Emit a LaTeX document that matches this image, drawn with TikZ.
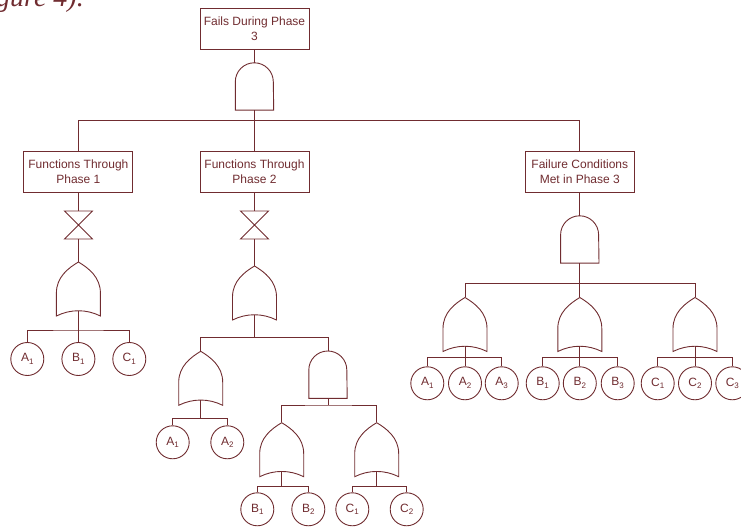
\documentclass[tikz,border=0pt]{standalone}
\usepackage{fontspec}
\setmainfont{Liberation Sans}
\newfontfamily\capfont{Liberation Serif}
\usetikzlibrary{calc}
\definecolor{ink}{RGB}{112,44,48}
\newcommand\drawand[1]{\draw[ln] (#1.south west) -- ([yshift=-19pt]#1.north west) arc[start angle=180,end angle=0,radius=19pt] -- (#1.south east) -- cycle;}
\newcommand\drawor[1]{\draw[ln,shift={(#1.center)}] (-22,-27) -- (-22,-4) .. controls (-22,12) and (-10,21) .. (0,27) .. controls (10,21) and (22,12) .. (22,-4) -- (22,-27) .. controls (8,-20) and (-8,-20) .. cycle;}
\newcommand\drawbow[1]{\draw[ln,shift={(#1.center)}] (-14,14) -- (14,14) -- (-14,-14) -- (14,-14) -- cycle;}
\newcommand\sbs[1]{\raisebox{-0.45ex}{\fontsize{8}{8}\selectfont #1}}
\begin{document}
\begin{tikzpicture}[x=1pt,y=1pt,
 every node/.style={text=ink},
 ln/.style={draw=ink, line width=0.9pt},
 evbox/.style={draw=ink, line width=0.9pt, rectangle, minimum width=109pt, minimum height=41pt, inner sep=0pt, align=center, font=\fontsize{12}{15}\selectfont},
 andg/.style={minimum width=38pt, minimum height=47pt, inner sep=0pt},
 org/.style={minimum width=44pt, minimum height=54pt, inner sep=0pt},
 tg/.style={minimum width=28pt, minimum height=28pt, inner sep=0pt},
 basic/.style={draw=ink, line width=0.9pt, circle, minimum size=33pt, inner sep=0pt, font=\fontsize{12}{13}\selectfont}]
\useasboundingbox (0,0) rectangle (741,527);
% caption fragment
\node[anchor=base west, font=\capfont\itshape\fontsize{28}{28}\selectfont, inner sep=0pt] (cap) at (-4,520) {gure 4).};
% top
\node[evbox] (top) at (254.5,498) {Fails During Phase\\3};
\node[andg] (g0) at (254.5,440.5) {}; \drawand{g0}
\coordinate (bus0) at (254.5,406.5);
\node[evbox] (e1) at (78.4,355.5) {Functions Through\\Phase 1};
\node[evbox] (e2) at (254.5,355.5) {Functions Through\\Phase 2};
\node[evbox] (e3) at (579.8,355.5) {Failure Conditions\\Met in Phase 3};
\draw[ln] (top.south) -- (g0.north);
\draw[ln] (g0.south) -- (bus0);
\draw[ln] (e1.north) |- (bus0) -| (e3.north);
\draw[ln] (bus0) -- (e2.north);
% phase 1
\node[tg] (t1) at (78.4,302) {}; \drawbow{t1}
\node[org] (o1) at (78.4,238) {}; \drawor{o1}
\coordinate (bus1) at (78.4,197);
\node[basic] (a11) at (27.3,168) {A\sbs{1}};
\node[basic] (b11) at (78.4,168) {B\sbs{1}};
\node[basic] (c11) at (129.3,168) {C\sbs{1}};
\draw[ln] (e1.south) -- (t1.north);
\draw[ln] (t1.south) -- (o1.north);
\draw[ln] ([yshift=5.5pt]o1.south) -- (bus1);
\draw[ln] (a11.north) |- (bus1) -| (c11.north);
\draw[ln] (bus1) -- (b11.north);
% phase 2
\node[tg] (t2) at (254.5,302) {}; \drawbow{t2}
\node[org] (o2) at (254.5,234) {}; \drawor{o2}
\coordinate (bus2) at (254.5,189.7);
\node[org] (o3) at (200.7,148.7) {}; \drawor{o3}
\node[andg] (g2) at (328,152.3) {}; \drawand{g2}
\draw[ln] (e2.south) -- (t2.north);
\draw[ln] (t2.south) -- (o2.north);
\draw[ln] ([yshift=5.5pt]o2.south) -- (bus2);
\draw[ln] (o3.north) |- (bus2) -| (g2.north);
\coordinate (bus3) at (200.7,108.7);
\node[basic] (a21) at (172.7,84.7) {A\sbs{1}};
\node[basic] (a22) at (227.3,84.7) {A\sbs{2}};
\draw[ln] ([yshift=5.5pt]o3.south) -- (bus3);
\draw[ln] (a21.north) |- (bus3) -| (a22.north);
\coordinate (bus4) at (328,122);
\node[org] (o4) at (281.7,77.3) {}; \drawor{o4}
\node[org] (o5) at (376.7,77.3) {}; \drawor{o5}
\draw[ln] (g2.south) -- (bus4);
\draw[ln] (o4.north) |- (bus4) -| (o5.north);
\coordinate (bus5) at (281.7,40.3);
\coordinate (bus6) at (376.7,40.3);
\node[basic] (b21) at (257.3,17.7) {B\sbs{1}};
\node[basic] (b22) at (308.3,17.7) {B\sbs{2}};
\node[basic] (c21) at (352.3,17.7) {C\sbs{1}};
\node[basic] (c22) at (406.7,17.7) {C\sbs{2}};
\draw[ln] ([yshift=5.5pt]o4.south) -- (bus5);
\draw[ln] (b21.north) |- (bus5) -| (b22.north);
\draw[ln] ([yshift=5.5pt]o5.south) -- (bus6);
\draw[ln] (c21.north) |- (bus6) -| (c22.north);
% phase 3
\node[andg] (g3) at (579.8,287.5) {}; \drawand{g3}
\coordinate (bus7) at (579.8,243.7);
\draw[ln] (e3.south) -- (g3.north);
\draw[ln] (g3.south) -- (bus7);
\node[org] (o6) at (465,202.5) {}; \drawor{o6}
\node[org] (o7) at (579.8,202.5) {}; \drawor{o7}
\node[org] (o8) at (695,202.5) {}; \drawor{o8}
\draw[ln] (o6.north) |- (bus7) -| (o8.north);
\draw[ln] (bus7) -- (o7.north);
\coordinate (bus8) at (465,169.3);
\coordinate (bus9) at (579.8,169.3);
\coordinate (bus10) at (695,169.3);
\node[basic] (a31) at (427.3,143.7) {A\sbs{1}};
\node[basic] (a32) at (465,143.7) {A\sbs{2}};
\node[basic] (a33) at (501.7,143.7) {A\sbs{3}};
\node[basic] (b31) at (542.7,143.7) {B\sbs{1}};
\node[basic] (b32) at (579.8,143.7) {B\sbs{2}};
\node[basic] (b33) at (617.7,143.7) {B\sbs{3}};
\node[basic] (c31) at (657.7,143.7) {C\sbs{1}};
\node[basic] (c32) at (695,143.7) {C\sbs{2}};
\node[basic] (c33) at (732.3,143.7) {C\sbs{3}};
\draw[ln] ([yshift=5.5pt]o6.south) -- (bus8);
\draw[ln] (a31.north) |- (bus8) -| (a33.north);
\draw[ln] (bus8) -- (a32.north);
\draw[ln] ([yshift=5.5pt]o7.south) -- (bus9);
\draw[ln] (b31.north) |- (bus9) -| (b33.north);
\draw[ln] (bus9) -- (b32.north);
\draw[ln] ([yshift=5.5pt]o8.south) -- (bus10);
\draw[ln] (c31.north) |- (bus10) -| (c33.north);
\draw[ln] (bus10) -- (c32.north);
\end{tikzpicture}
\end{document}
